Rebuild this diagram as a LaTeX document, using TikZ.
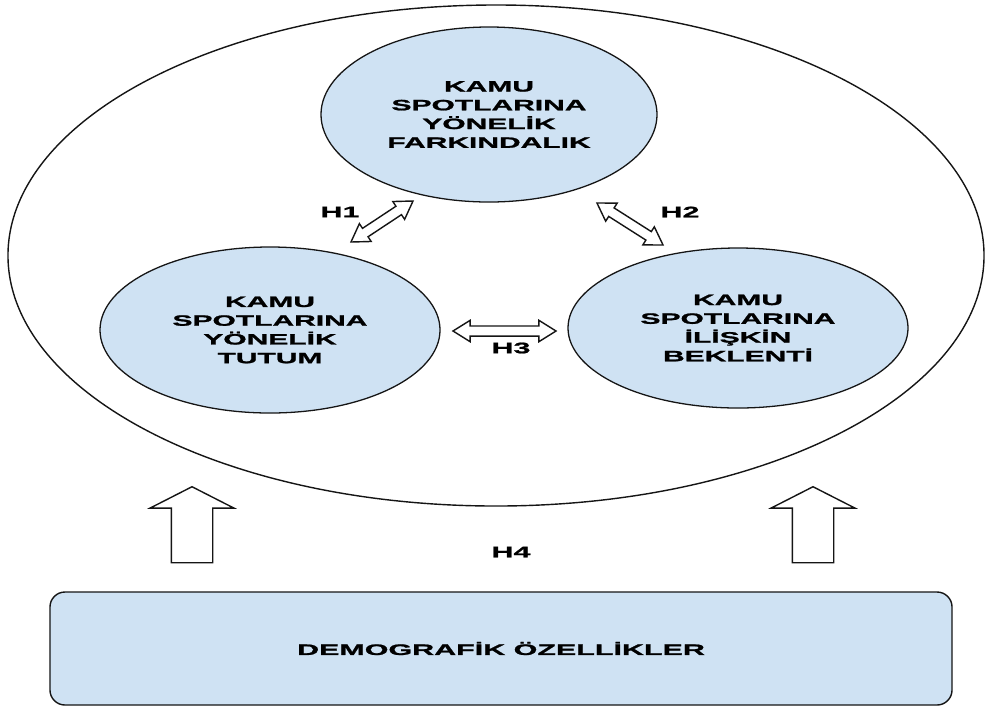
\documentclass[tikz,border=0pt]{standalone}
\usepackage{fontspec}
\newfontfamily\wideSans{Liberation Sans}[FakeStretch=2.0, BoldFeatures={FakeBold=1.4}]
\usetikzlibrary{shapes.geometric, shapes.arrows, positioning, calc}
\usepackage{xcolor}
\definecolor{cBubble}{HTML}{CFE2F3}
\definecolor{cLine}{HTML}{151515}
\tikzset{
  ring/.style={
    ellipse, draw=cLine, line width=1.2pt,
    minimum width=29.28cm, minimum height=15.03cm,
    inner sep=0pt,
  },
  bubble/.style={
    ellipse, draw=cLine, fill=cBubble, line width=1.1pt,
    inner sep=0pt, align=center, text=black,
    font=\wideSans\bfseries\fontsize{12.8}{16}\selectfont,
  },
  basebox/.style={
    draw=cLine, fill=cBubble, rounded corners=0.45cm, line width=1.2pt,
    minimum width=27.06cm, minimum height=3.39cm,
    font=\wideSans\bfseries\fontsize{13}{15}\selectfont,
  },
  dblarrow/.style={
    double arrow, draw=cLine, fill=white, line width=1.2pt,
    minimum height=#1, inner xsep=0pt, inner ysep=0.13cm,
    double arrow head extend=0.17cm, double arrow tip angle=64,
  },
  uparrow/.style={
    single arrow, draw=cLine, fill=white, line width=1.2pt,
    rotate=90, minimum height=2.28cm, inner xsep=0pt, inner ysep=0.6cm,
    single arrow head extend=0.64cm, single arrow tip angle=126,
  },
  hlabel/.style={font=\wideSans\bfseries\fontsize{13}{15}\selectfont},
}

\begin{document}
\begin{tikzpicture}[x=0.03cm, y=-0.03cm]
  \useasboundingbox (0,0) rectangle (986,715);

  % outer frame
  \node[ring] (model) at (496,255.5) {};

  % the three constructs
  \node[bubble, minimum width=10.08cm, minimum height=5.25cm]
    (farkindalik) at (489,114.5) {KAMU\\SPOTLARINA\\YÖNELİK\\FARKINDALIK};
  \node[bubble, minimum width=10.2cm, minimum height=4.98cm]
    (tutum) at (270,330) {KAMU\\SPOTLARINA\\YÖNELİK\\TUTUM};
  \node[bubble, minimum width=10.2cm, minimum height=4.8cm]
    (beklenti) at (738,328) {KAMU\\SPOTLARINA\\İLİŞKİN\\BEKLENTİ};

  % demographics
  \node[basebox] (demografik) at (501,648.5) {DEMOGRAFİK ÖZELLİKLER};

  % H1 - H3
  \coordinate (h1a) at (351,242);
  \coordinate (h1b) at (413,201);
  \path (h1a) -- node[dblarrow=2.23cm, sloped] (h1arrow) {} (h1b);
  \node[hlabel] (h1) at (340,212) {H1};

  \coordinate (h2a) at (597,203);
  \coordinate (h2b) at (663,245);
  \path (h2a) -- node[dblarrow=2.35cm, sloped] (h2arrow) {} (h2b);
  \node[hlabel] (h2) at (680,212) {H2};

  \coordinate (h3a) at (453,331);
  \coordinate (h3b) at (556,331);
  \path (h3a) -- node[dblarrow=3.09cm, sloped] (h3arrow) {} (h3b);
  \node[hlabel] (h3) at (511,348) {H3};

  % H4
  \node[uparrow] (h4left) at (192,530) {};
  \node[uparrow] (h4right) at (813,530) {};
  \node[hlabel] (h4) at (511,552) {H4};

\end{tikzpicture}
\end{document}
